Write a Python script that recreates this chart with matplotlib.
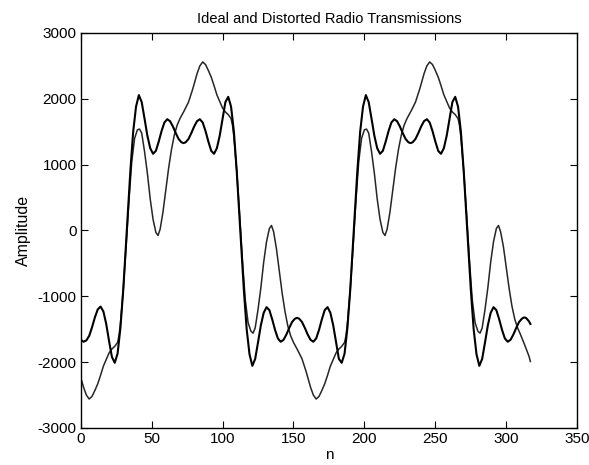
import matplotlib
matplotlib.use("Agg")
import matplotlib.pyplot as plt

plt.rcParams['font.family'] = ['Liberation Sans', 'DejaVu Sans']
plt.rcParams['axes.unicode_minus'] = False

title = "Ideal and Distorted Radio Transmissions"
xlabel = "n"
ylabel = "Amplitude"
xticks = [0, 50, 100, 150, 200, 250, 300, 350]
yticks = [-3000, -2000, -1000, 0, 1000, 2000, 3000]

# Ideal transmission
n_ideal = [0, 2, 4, 6, 8, 10, 12, 14, 16, 18, 20, 22, 24, 26, 28, 30, 32, 33, 35, 37, 39, 41,
           43, 45, 47, 49, 51, 53, 55, 57, 59, 61, 63, 65, 67, 69, 71, 72.5, 74, 76, 78, 80,
           82, 84, 86, 88, 90, 92, 94, 96, 98, 100, 102, 104, 106, 108, 110, 112, 113, 115,
           117, 119, 121, 123, 125, 127, 129, 131, 133, 135, 137, 139, 141, 143, 145, 147,
           149, 151, 152.5, 154, 156, 158, 160, 162, 164, 166, 168, 170, 172, 174, 176, 178,
           180, 182, 184, 186, 188, 190, 192, 193, 195, 197, 199, 201, 203, 205, 207, 209,
           211, 213, 215, 217, 219, 221, 223, 225, 227, 229, 231, 232.5, 234, 236, 238, 240,
           242, 244, 246, 248, 250, 252, 254, 256, 258, 260, 262, 264, 266, 268, 270, 272,
           273, 275, 277, 279, 281, 283, 285, 287, 289, 291, 293, 295, 297, 299, 301, 303,
           305, 307, 309, 311, 312.5, 314, 316, 317]
ideal = [-1660, -1690, -1670, -1600, -1470, -1320, -1200, -1155, -1230, -1420, -1680, -1920,
         -2010, -1870, -1480, -900, -170, 170, 900, 1500, 1880, 2056,
         1950, 1700, 1440, 1250, 1165, 1210, 1350, 1510, 1640, 1690, 1660, 1580, 1480, 1390,
         1340, 1327, 1340, 1390, 1480, 1580,
         1660, 1690, 1640, 1510, 1350, 1210, 1165, 1250, 1440, 1700, 1950, 2030, 1880, 1500,
         900, 170, -170, -900,
         -1500, -1880, -2056, -1950, -1700, -1440, -1250, -1165, -1210, -1350, -1510, -1640,
         -1690, -1660, -1580, -1480,
         -1390, -1340, -1327, -1340, -1390, -1480, -1580, -1660, -1690, -1640, -1510, -1350,
         -1210, -1165, -1250, -1440,
         -1700, -1950, -2010, -1870, -1480, -900, -170, 170, 900, 1500, 1880, 2056, 1950,
         1700, 1440, 1250,
         1165, 1210, 1350, 1510, 1640, 1690, 1660, 1580, 1480, 1390, 1340, 1327, 1340, 1390,
         1480, 1580,
         1660, 1690, 1640, 1510, 1350, 1210, 1165, 1250, 1440, 1700, 1950, 2030, 1880, 1500,
         900, 170,
         -170, -900, -1500, -1880, -2056, -1950, -1700, -1440, -1250, -1165, -1210, -1350,
         -1510, -1640, -1690, -1660,
         -1580, -1480, -1390, -1340, -1320, -1330, -1380, -1420]

# Distorted transmission
n_dist = [0, 2, 4, 6, 8, 10, 12, 14, 16, 18, 20, 22, 24, 26, 27, 28, 30, 32, 34, 36, 38, 40,
          41.5, 43, 45, 47, 49, 51, 53, 54.5, 56, 58, 60, 62, 64, 66, 68, 70, 73, 76, 79, 82,
          84, 86, 88, 90, 92, 94, 96, 98, 100, 102, 104, 106, 107, 108, 110, 112, 114, 116,
          118, 120, 121.5, 123, 125, 127, 129, 131, 133, 134.5, 136, 138, 140, 142, 144, 146,
          148, 150, 153, 156, 159, 162, 164, 166, 168, 170, 172, 174, 176, 178, 180, 182, 184,
          186, 187, 188, 190, 192, 194, 196, 198, 200, 201.5, 203, 205, 207, 209, 211, 213,
          214.5, 216, 218, 220, 222, 224, 226, 228, 230, 233, 236, 239, 242, 244, 246, 248,
          250, 252, 254, 256, 258, 260, 262, 264, 266, 267, 268, 270, 272, 274, 276, 278, 280,
          281.5, 283, 285, 287, 289, 291, 293, 294.5, 296, 298, 300, 302, 304, 306, 308, 310,
          313, 316, 317]
distorted = [-2230, -2380, -2500, -2560, -2520, -2430, -2330, -2200, -2060, -1960, -1860,
             -1800, -1760, -1700, -1600, -1420, -900, -250, 450, 1050, 1400, 1530,
             1540, 1480, 1200, 870, 480, 170, -30, -76, 20, 280, 620, 950, 1230, 1450, 1600,
             1700, 1820, 1950, 2150, 2380,
             2500, 2560, 2520, 2430, 2330, 2200, 2060, 1960, 1860, 1800, 1760, 1700, 1600,
             1420, 900, 250, -450, -1050,
             -1400, -1530, -1560, -1480, -1200, -870, -480, -170, 30, 76, -20, -280, -620,
             -950, -1230, -1450,
             -1600, -1700, -1820, -1950, -2150, -2380, -2500, -2560, -2520, -2430, -2330,
             -2200, -2060, -1960, -1860, -1800, -1760,
             -1700, -1600, -1420, -900, -250, 450, 1050, 1400, 1530, 1540, 1480, 1200, 870,
             480, 170, -30,
             -76, 20, 280, 620, 950, 1230, 1450, 1600, 1700, 1820, 1950, 2150, 2380, 2500,
             2560, 2520,
             2430, 2330, 2200, 2060, 1960, 1860, 1800, 1760, 1700, 1600, 1420, 900, 250, -450,
             -1050, -1400, -1530,
             -1560, -1480, -1200, -870, -480, -170, 30, 76, -20, -250, -560, -880, -1150,
             -1350, -1480, -1580,
             -1740, -1910, -1990]

fig = plt.figure(figsize=(5.89, 4.65), dpi=100)
ax = fig.add_axes([0.137, 0.0796, 0.843, 0.8495])

ax.plot(n_dist, distorted, color='#262626', linewidth=1.1)
ax.plot(n_ideal, ideal, color='black', linewidth=1.5)

ax.set_xlim(0, 350)
ax.set_ylim(-3000, 3000)
ax.set_xticks(xticks)
ax.set_yticks(yticks)
ax.set_xticklabels([str(v) for v in xticks])
ax.set_yticklabels([str(v) for v in yticks])
ax.tick_params(direction='in', top=True, right=True, length=5, width=0.8,
               labelsize=11, pad=3, colors='black')
for s in ax.spines.values():
    s.set_linewidth(1.0)
    s.set_color('black')

ax.set_title(title, fontsize=10.5, pad=7)
ax.set_xlabel(xlabel, fontsize=11, labelpad=1)
ax.set_ylabel(ylabel, fontsize=11.5, labelpad=5)

fig.savefig("out.png", dpi=100, facecolor='white')
